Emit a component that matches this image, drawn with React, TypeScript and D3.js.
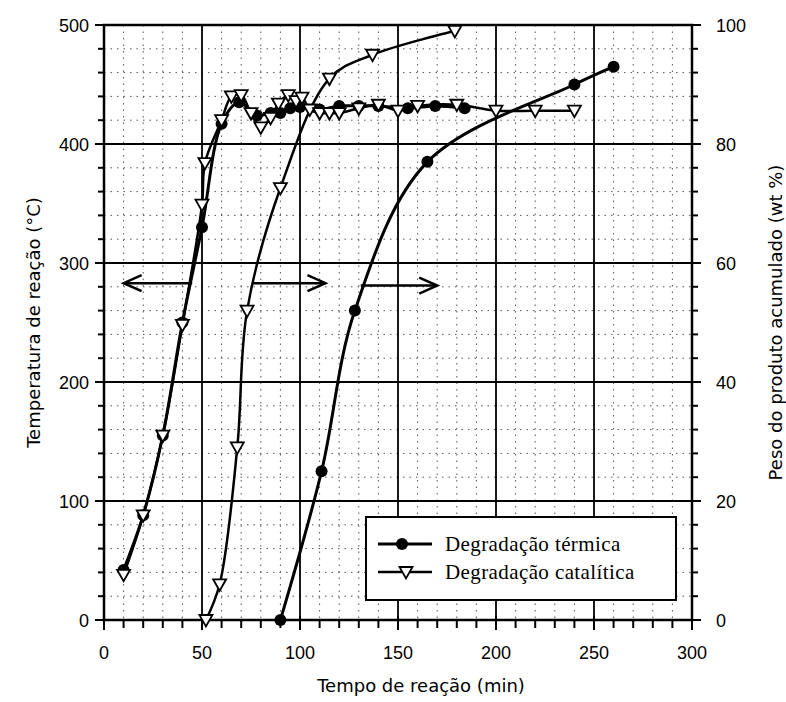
import React from 'react';
import * as d3 from 'd3';

// tick values
const timeTicks = [0, 50, 100, 150, 200, 250, 300];
const tempTicks = [0, 100, 200, 300, 400, 500];
const wtTicks = [0, 20, 40, 60, 80, 100];

// temperature (°C) vs time (min)
const thermalTemp: [number, number][] = [
  [10, 42], [20, 88], [30, 155], [40, 250], [50, 330], [60, 417], [69, 435],
  [78, 424], [85, 426], [90, 426], [95, 430], [100, 431], [110, 429], [120, 432],
  [130, 432], [140, 432], [155, 430], [169, 432], [184, 430],
];
const catalyticTemp: [number, number][] = [
  [10, 38], [20, 88], [30, 155], [40, 248], [50, 349], [51.5, 384], [60, 420],
  [65, 440], [70, 441], [75, 426], [80, 414], [85, 422], [89, 434], [94, 441],
  [98, 436], [101, 439], [105, 429], [110, 426], [115, 426], [120, 426], [130, 430],
  [140, 433], [150, 428], [160, 432], [180, 433], [200, 428], [220, 428], [240, 428],
];

// accumulated product (wt %) vs time (min)
const thermalWeight: [number, number][] = [
  [90, 0], [111, 25], [128, 52], [165, 77], [240, 90], [260, 93],
];
const catalyticWeight: [number, number][] = [
  [52, 0], [59, 6], [68, 29], [73, 52], [90, 72.6], [115, 91], [137, 95], [179, 99],
];

// annotation arrows: from / to time, at temperature level
const arrows = [
  { from: 45, to: 10, t: 283 },
  { from: 76, to: 113, t: 283 },
  { from: 131, to: 170, t: 281 },
];

const W = 786, H = 702;

export default function App() {
  const x = d3.scaleLinear().domain([0, 300]).range([104, 692]);
  const yT = d3.scaleLinear().domain([0, 500]).range([620, 25]);
  const yW = d3.scaleLinear().domain([0, 100]).range([620, 25]);

  const lineT = d3.line<[number, number]>().x(d => x(d[0])).y(d => yT(d[1])).curve(d3.curveCatmullRom.alpha(0.5));
  const lineW = d3.line<[number, number]>().x(d => x(d[0])).y(d => yW(d[1])).curve(d3.curveCatmullRom.alpha(0.5));

  const minorX = d3.range(10, 300, 10).filter(v => v % 50 !== 0);
  const minorT = d3.range(20, 500, 20).filter(v => v % 100 !== 0);
  const tri = (cx: number, cy: number) => `M${cx - 6.5},${cy - 5}L${cx + 6.5},${cy - 5}L${cx},${cy + 6.5}Z`;

  const tickFont = { fontFamily: 'Liberation Sans, Arial, sans-serif', fontSize: 18 };
  const titleFont = { fontFamily: 'DejaVu Sans, sans-serif', fontSize: 18 };

  return (
    <svg width={W} height={H} style={{ position: 'absolute', left: 0, top: 0, background: '#fff' }}>
      {/* minor dotted grid */}
      {minorX.map(v => (
        <line key={'mx' + v} x1={x(v)} x2={x(v)} y1={yT(500)} y2={yT(0)} stroke="#555" strokeWidth={1} strokeDasharray="1.5,5" />
      ))}
      {minorT.map(v => (
        <line key={'mt' + v} x1={x(0)} x2={x(300)} y1={yT(v)} y2={yT(v)} stroke="#555" strokeWidth={1} strokeDasharray="1.5,5" />
      ))}
      {/* major grid */}
      {timeTicks.slice(1, -1).map(v => (
        <line key={'gx' + v} x1={x(v)} x2={x(v)} y1={yT(500)} y2={yT(0)} stroke="#000" strokeWidth={1.8} />
      ))}
      {tempTicks.slice(1, -1).map(v => (
        <line key={'gt' + v} x1={x(0)} x2={x(300)} y1={yT(v)} y2={yT(v)} stroke="#000" strokeWidth={1.8} />
      ))}
      {/* frame */}
      <rect x={x(0)} y={yT(500)} width={x(300) - x(0)} height={yT(0) - yT(500)} fill="none" stroke="#000" strokeWidth={2.5} />

      {/* x ticks */}
      {d3.range(0, 301, 10).map(v => (
        <line key={'tx' + v} x1={x(v)} x2={x(v)} y1={yT(0) - (v % 50 === 0 ? 4 : 0)} y2={yT(0) + (v % 50 === 0 ? 10 : 8)} stroke="#000" strokeWidth={2} />
      ))}
      {timeTicks.map(v => (
        <text key={'lx' + v} x={x(v)} y={659} textAnchor="middle" {...tickFont}>{v}</text>
      ))}
      {/* left ticks */}
      {d3.range(0, 501, 20).map(v => (
        <line key={'tl' + v} x1={x(0) - (v % 100 === 0 ? 9 : 6)} x2={x(0)} y1={yT(v)} y2={yT(v)} stroke="#000" strokeWidth={2} />
      ))}
      {tempTicks.map(v => (
        <text key={'ll' + v} x={89} y={yT(v) + 6.5} textAnchor="end" {...tickFont}>{v}</text>
      ))}
      {/* right ticks */}
      {d3.range(0, 101, 4).map(v => (
        <line key={'tr' + v} x1={x(300)} x2={x(300) + (v % 20 === 0 ? 9 : 6)} y1={yW(v)} y2={yW(v)} stroke="#000" strokeWidth={2} />
      ))}
      {wtTicks.map(v => (
        <text key={'lr' + v} x={716} y={yW(v) + 6.5} textAnchor="start" {...tickFont}>{v}</text>
      ))}

      {/* axis titles */}
      <text x={421} y={692} textAnchor="middle" {...titleFont}>Tempo de reação (min)</text>
      <text transform={`translate(40,${yT(250)}) rotate(-90)`} textAnchor="middle" {...titleFont}>Temperatura de reação (°C)</text>
      <text transform={`translate(782,${yT(250)}) rotate(-90)`} textAnchor="middle" {...titleFont}>Peso do produto acumulado (wt %)</text>

      {/* curves */}
      <path d={lineT(thermalTemp) || ''} fill="none" stroke="#000" strokeWidth={3} />
      <path d={lineT(catalyticTemp) || ''} fill="none" stroke="#000" strokeWidth={2.5} />
      <path d={lineW(thermalWeight) || ''} fill="none" stroke="#000" strokeWidth={3} />
      <path d={lineW(catalyticWeight) || ''} fill="none" stroke="#000" strokeWidth={2.5} />

      {/* markers */}
      {thermalTemp.map((d, i) => <circle key={'ct' + i} cx={x(d[0])} cy={yT(d[1])} r={6} fill="#000" />)}
      {thermalWeight.map((d, i) => <circle key={'cw' + i} cx={x(d[0])} cy={yW(d[1])} r={6} fill="#000" />)}
      {catalyticTemp.map((d, i) => <path key={'pt' + i} d={tri(x(d[0]), yT(d[1]))} fill="#fff" stroke="#000" strokeWidth={1.8} />)}
      {catalyticWeight.map((d, i) => <path key={'pw' + i} d={tri(x(d[0]), yW(d[1]))} fill="#fff" stroke="#000" strokeWidth={1.8} />)}

      {/* arrows */}
      {arrows.map((a, i) => {
        const x1 = x(a.from), x2 = x(a.to), y = yT(a.t);
        const dir = x2 > x1 ? 1 : -1;
        return (
          <g key={'ar' + i} stroke="#000" fill="none" strokeWidth={2.5}>
            <line x1={x1} x2={x2} y1={y} y2={y} />
            <polyline points={`${x2 - dir * 18},${y - 8} ${x2},${y} ${x2 - dir * 18},${y + 8}`} />
          </g>
        );
      })}

      {/* legend */}
      <rect x={366} y={517} width={310} height={83} fill="#fff" stroke="#000" strokeWidth={2} />
      <line x1={378} x2={432} y1={544} y2={544} stroke="#000" strokeWidth={3} />
      <circle cx={402} cy={544} r={6} fill="#000" />
      <line x1={378} x2={432} y1={572} y2={572} stroke="#000" strokeWidth={2.5} />
      <path d={tri(406, 572)} fill="#fff" stroke="#000" strokeWidth={1.8} />
      <text x={445} y={551} fontFamily="Liberation Serif, serif" fontSize={21} letterSpacing={0.4}>Degradação térmica</text>
      <text x={445} y={579} fontFamily="Liberation Serif, serif" fontSize={21} letterSpacing={0.4}>Degradação catalítica</text>
    </svg>
  );
}
